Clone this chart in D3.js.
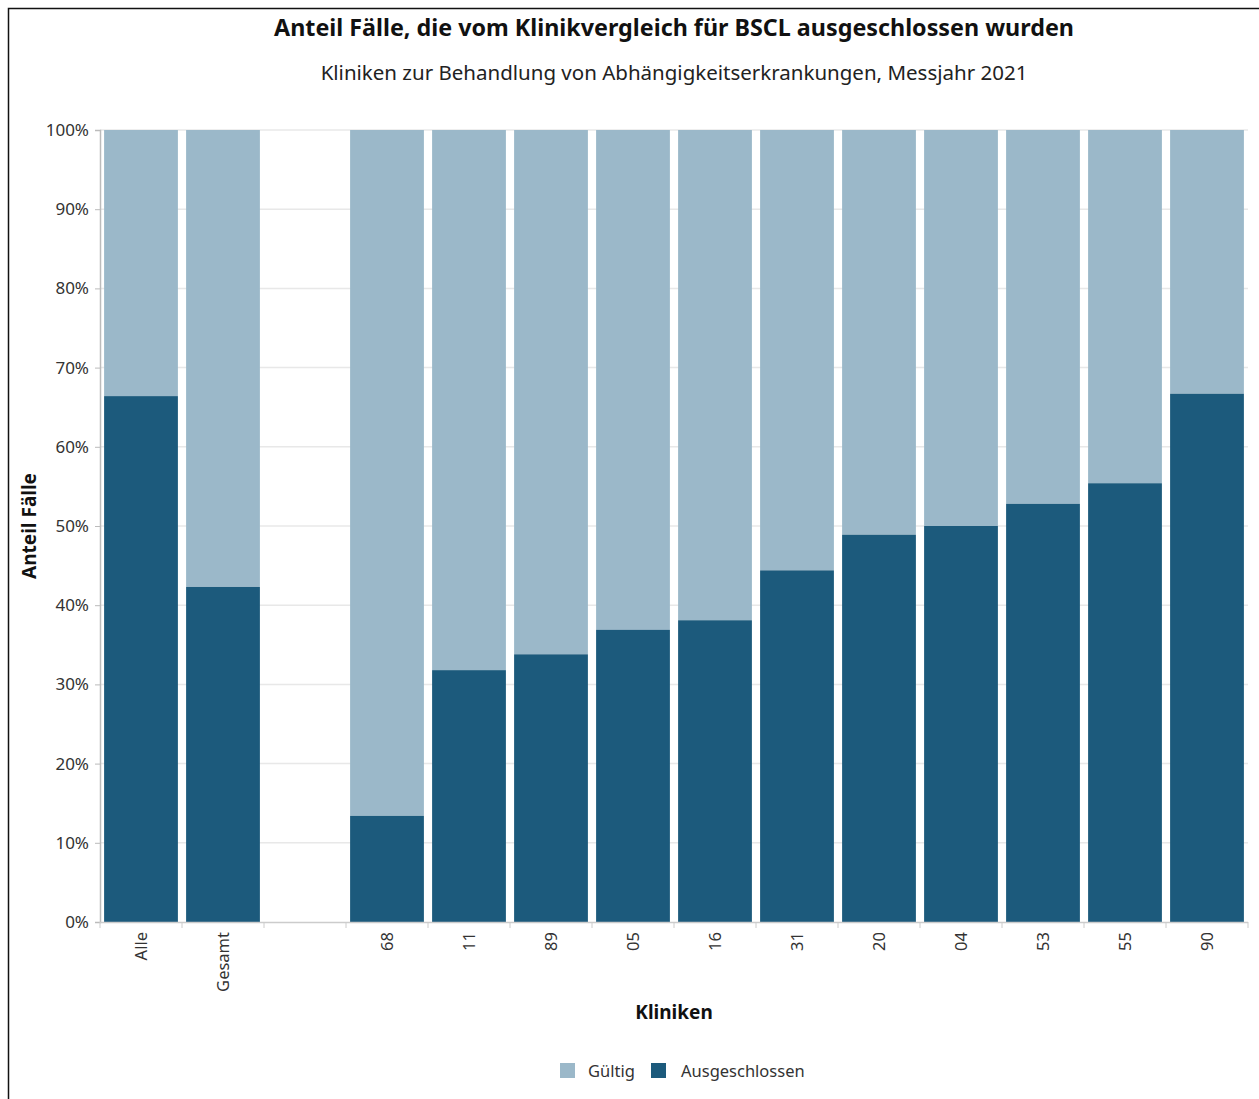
<!DOCTYPE html>
<html><head><meta charset="utf-8">
<script src="https://cdn.jsdelivr.net/npm/d3@7"></script>
<style>body{margin:0;background:#fff}svg{display:block}text{font-family:"Noto Sans",sans-serif}</style>
</head><body>
<svg id="c" width="1259" height="1099"></svg>
<script>
const categories = ["Alle","Gesamt","","68","11","89","05","16","31","20","04","53","55","90"];
const ausgeschlossen = [66.4,42.3,null,13.4,31.8,33.8,36.9,38.1,44.4,48.9,50.0,52.8,55.4,66.7];
const seriesNames = ["Gültig","Ausgeschlossen"];
const yTicks = [0,10,20,30,40,50,60,70,80,90,100];
const colors = {"Gültig":"#9bb8c9","Ausgeschlossen":"#1c5a7c"};

const svg = d3.select("#c");
const W = 1259, H = 1099;
const m = {l:100, r:1248, t:130, b:922};

svg.append("path").attr("d",`M8.5,${H+5}V8.5H${W+5}`).attr("fill","none").attr("stroke","#111").attr("stroke-width",1.5);

const x = d3.scaleBand().domain(categories.map((c,i)=>i)).range([m.l,m.r]).paddingInner(0.1).paddingOuter(0.05);
const y = d3.scaleLinear().domain([0,100]).range([m.b,m.t]);

// grid
svg.append("g").selectAll("line").data(yTicks.filter(t=>t>0)).join("line")
  .attr("x1",m.l).attr("x2",m.r).attr("y1",d=>y(d)).attr("y2",d=>y(d))
  .attr("stroke","#e8e8e8").attr("stroke-width",1.5);

const data = categories.map((c,i)=>({i, c, a: ausgeschlossen[i]})).filter(d=>d.a!==null);
const bars = svg.append("g");
bars.selectAll("rect.g").data(data).join("rect")
  .attr("x",d=>x(d.i)).attr("width",x.bandwidth())
  .attr("y",y(100)).attr("height",d=>y(d.a)-y(100))
  .attr("fill",colors["Gültig"]);
bars.selectAll("rect.a").data(data).join("rect")
  .attr("x",d=>x(d.i)).attr("width",x.bandwidth())
  .attr("y",d=>y(d.a)).attr("height",d=>y(0)-y(d.a))
  .attr("fill",colors["Ausgeschlossen"]);

// y axis
const ya = svg.append("g").attr("transform",`translate(${m.l},0)`)
  .call(d3.axisLeft(y).tickValues(yTicks).tickFormat(d=>d+"%").tickSize(5).tickPadding(6));
ya.attr("font-family",null).attr("font-size",null);
ya.select(".domain").attr("stroke","#bbb").attr("stroke-width",1.5);
ya.selectAll(".tick line").attr("stroke","#bbb");
ya.selectAll("text").style("font-size","17px").attr("fill","#333");

// x axis
const xg = svg.append("g").attr("transform",`translate(0,${m.b})`);
xg.append("line").attr("x1",m.l).attr("x2",m.r).attr("y1",0.5).attr("y2",0.5).attr("stroke","#ccc").attr("stroke-width",1.5);
const step = x.step();
const bounds = d3.range(categories.length+1).map(k=>m.l + k*step);
xg.selectAll("line.t").data(bounds).join("line").attr("class","t")
  .attr("x1",d=>d).attr("x2",d=>d).attr("y1",0).attr("y2",6).attr("stroke","#ccc");
xg.selectAll("text").data(categories.map((c,i)=>({c,i}))).join("text")
  .attr("transform",d=>`translate(${x(d.i)+x.bandwidth()/2+6},10) rotate(-90)`)
  .attr("text-anchor","end").style("font-size","16.5px").attr("fill","#333").text(d=>d.c);

// titles
svg.append("text").attr("x",674).attr("y",36).attr("text-anchor","middle")
  .attr("font-size",23.3).attr("font-weight","bold").attr("fill","#111")
  .text("Anteil Fälle, die vom Klinikvergleich für BSCL ausgeschlossen wurden");
svg.append("text").attr("x",674).attr("y",80).attr("text-anchor","middle")
  .attr("font-size",20.5).attr("fill","#222")
  .text("Kliniken zur Behandlung von Abhängigkeitserkrankungen, Messjahr 2021");
svg.append("text").attr("transform","translate(36,526) rotate(-90)").attr("text-anchor","middle")
  .attr("font-size",19).attr("font-weight","bold").attr("fill","#111").text("Anteil Fälle");
svg.append("text").attr("x",674).attr("y",1019).attr("text-anchor","middle")
  .attr("font-size",19).attr("font-weight","bold").attr("fill","#111").text("Kliniken");

// legend
const lg = svg.append("g");
const legendPos = [{x:560,tx:588},{x:651,tx:681}];
seriesNames.forEach((s,k)=>{
  lg.append("rect").attr("x",legendPos[k].x).attr("y",1063).attr("width",15).attr("height",15).attr("fill",colors[s]);
  lg.append("text").attr("x",legendPos[k].tx).attr("y",1077).attr("font-size",16.5).attr("fill","#333").text(s);
});
</script>
</body></html>
